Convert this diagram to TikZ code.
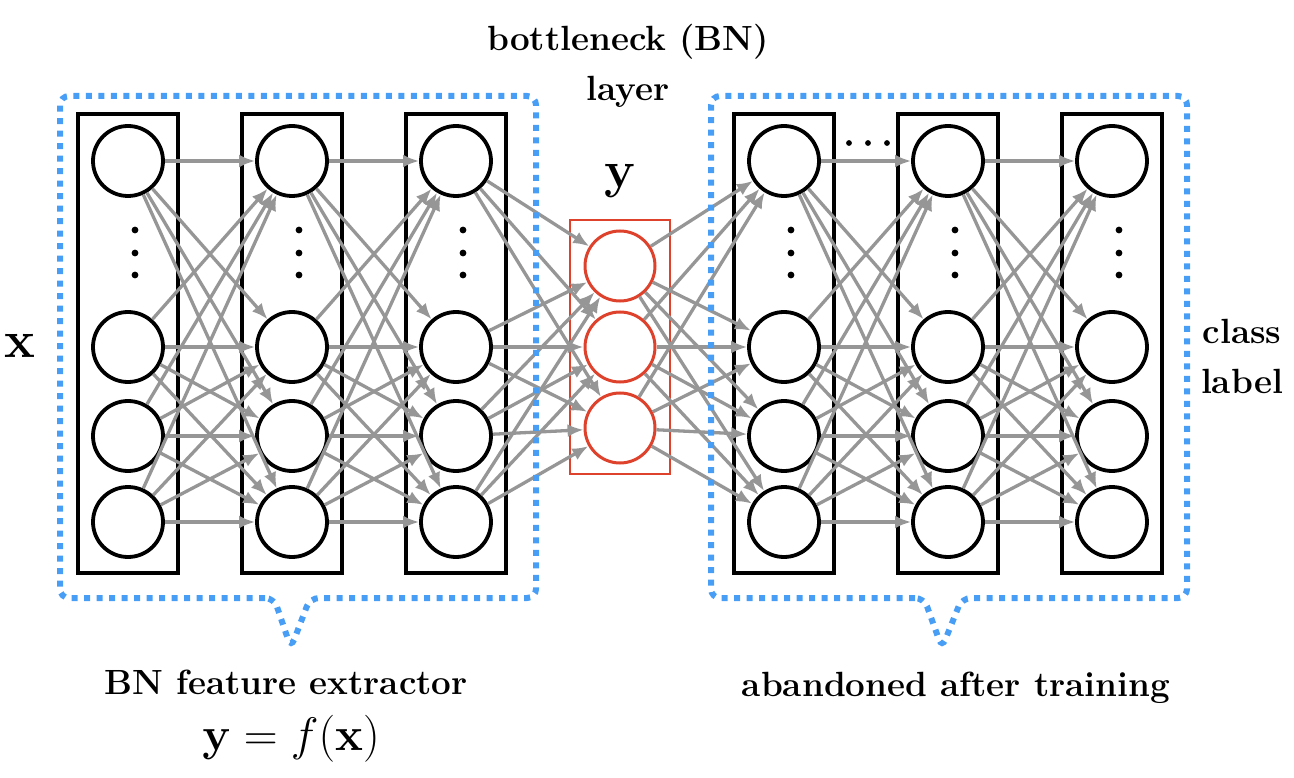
\documentclass[tikz,border=0pt]{standalone}
\usepackage{fix-cm}
\usepackage{amsmath,amssymb}
\usetikzlibrary{arrows,arrows.meta}

\definecolor{frameblue}{RGB}{72,158,245}
\definecolor{bnred}{RGB}{222,66,44}
\definecolor{conngray}{RGB}{150,150,150}

\begin{document}
\begin{tikzpicture}[x=1pt,y=-1pt]
\tikzstyle{neuron} = [draw,shape=circle,line width=3.8pt,inner sep=0pt,minimum size=70pt,fill=white]
\tikzstyle{bnneuron} = [neuron,draw=bnred,line width=3pt]
\tikzstyle{layerbox} = [draw,shape=rectangle,line width=4pt,inner sep=0pt,minimum width=100pt,minimum height=459pt]
\tikzstyle{conn} = [draw=conngray,line width=3.3pt,-{Latex[length=16pt,width=13pt]}]
\tikzstyle{groupframe} = [draw=frameblue,line width=6pt,dash pattern=on 6pt off 6.5pt,rounded corners=9pt]
\tikzstyle{tlabel} = [font=\fontsize{35}{50}\selectfont\bfseries,align=center,inner sep=0pt]
\tikzstyle{mlabel} = [font=\fontsize{52}{60}\selectfont,inner sep=0pt]

\useasboundingbox (0,0) rectangle (1294,778);

% layers of the network
\foreach \c/\xx in {1/128,2/292,3/456,5/784,6/948,7/1112} {
  \node[layerbox] (box\c) at (\xx,343.5) {};
  \node[neuron] (n\c1) at (\xx,161) {};
  \node[neuron] (n\c2) at (\xx,347) {};
  \node[neuron] (n\c3) at (\xx,436) {};
  \node[neuron] (n\c4) at (\xx,522) {};
  \foreach \dy in {230,253,275} \fill (\xx+7,\dy) circle (3.4pt);
}

% bottleneck layer
\node[draw=bnred,shape=rectangle,line width=2.8pt,inner sep=0pt,minimum width=100pt,minimum height=254pt] (bnbox) at (620,347) {};
\node[bnneuron] (n41) at (620,266) {};
\node[bnneuron] (n42) at (620,347) {};
\node[bnneuron] (n43) at (620,428) {};

\foreach \dx in {849,868,887} \fill (\dx,143) circle (2.9pt);

% connections
\foreach \a/\b in {1/2,2/3,5/6,6/7}
  \foreach \i in {1,...,4}
    \foreach \j in {1,...,4}
      \draw[conn] (n\a\i) -- (n\b\j);
\foreach \i in {1,...,4}
  \foreach \j in {1,2,3} {
    \draw[conn] (n3\i) -- (n4\j);
    \draw[conn] (n4\j) -- (n5\i);
  }

% dotted frames
\draw[groupframe] (274,598) -- (60,598) -- (60,96) -- (536,96) -- (536,598) -- (310,598) -- (291,648) -- cycle;
\draw[groupframe] (924,598) -- (711,598) -- (711,96) -- (1187,96) -- (1187,598) -- (962,598) -- (942,648) -- cycle;

\node[tlabel] (bnlabel) at (628,66) {bottleneck (BN)\\layer};
\node[mlabel,anchor=base] (ylabel) at (620,188) {$\mathbf{y}$};
\node[mlabel,anchor=base] (xlabel) at (20,357) {$\mathbf{x}$};
\node[tlabel] (classlabel) at (1242,356) {class\\label};
\node[tlabel,anchor=base] (extractor) at (286,694) {BN feature extractor};
\node[anchor=base,inner sep=0pt,font=\fontsize{47}{50}\selectfont] (fx) at (291,750) {$\mathbf{y}=f(\mathbf{x})$};
\node[tlabel,anchor=base] (abandoned) at (956,696) {abandoned after training};
\end{tikzpicture}
\end{document}
